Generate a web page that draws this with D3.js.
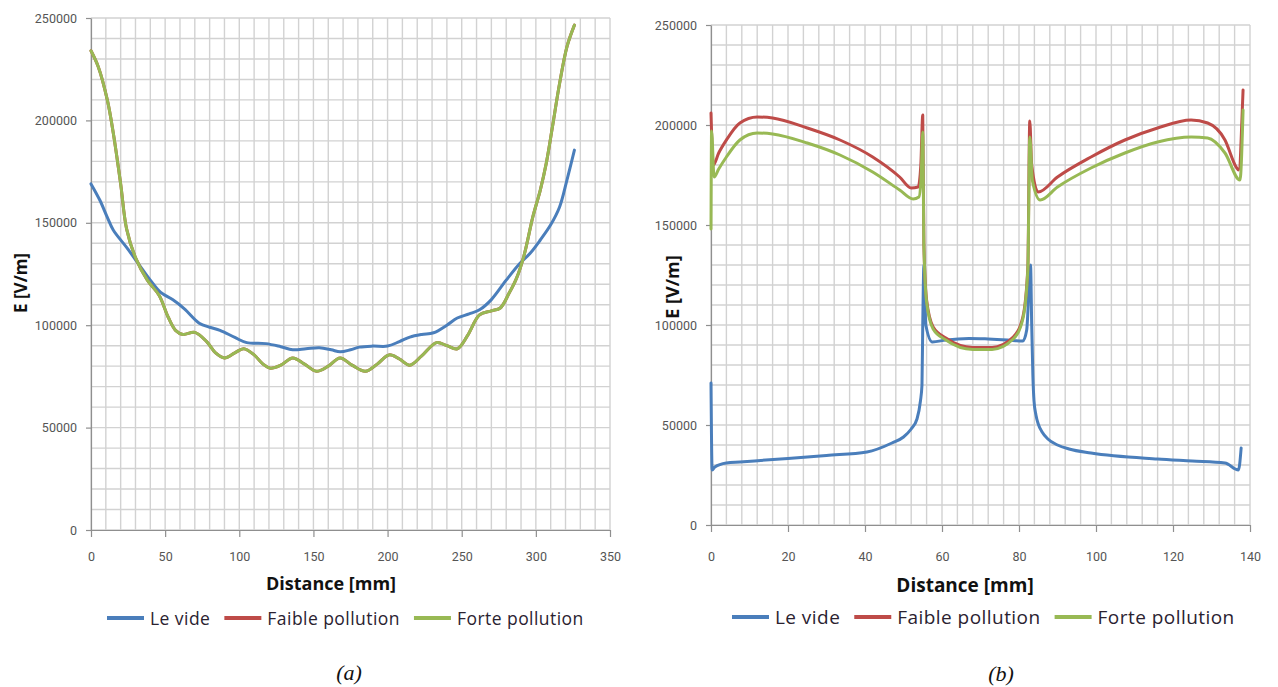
<!DOCTYPE html>
<html>
<head>
<meta charset="utf-8">
<script src="https://cdn.jsdelivr.net/npm/d3@7"></script>
<style>
  body { margin: 0; background: #fff; }
  svg { display: block; }
</style>
</head>
<body>
<svg id="chart"></svg>
<script>
// ---- data ----
const seriesNames = ["Le vide", "Faible pollution", "Forte pollution"];
const yTicks = [0, 50000, 100000, 150000, 200000, 250000];
const xTicksA = [0, 50, 100, 150, 200, 250, 300, 350];
const xTicksB = [0, 20, 40, 60, 80, 100, 120, 140];

// (a) distance in mm, E in V/m
const distA_vide = [0, 6, 10.8, 15, 24, 32, 40, 47, 55, 63, 73, 80, 87, 97, 105, 118, 128, 136, 145, 154, 162, 168, 175, 181, 190, 200, 208, 215, 223, 231, 240, 247, 255, 262, 270, 280, 289, 296, 303, 310, 316, 321, 326];
const eA_vide = [169000, 161000, 153000, 146500, 138000, 130000, 122000, 116000, 112500, 108000, 101000, 99000, 97500, 94000, 91500, 91000, 89500, 88000, 88500, 89000, 88000, 87000, 88000, 89300, 89800, 89800, 92000, 94200, 95500, 96300, 100000, 103500, 105500, 107500, 112500, 122000, 130000, 135000, 141600, 149000, 157700, 171000, 185500];

const distA_forte = [0, 5, 11, 15, 20, 24, 30, 38, 46, 52, 57, 62, 70, 78, 84, 90, 97, 103, 110, 116, 121, 128, 136, 144, 152, 160, 168, 176, 185, 193, 201, 208, 215, 223, 233, 240, 247, 254, 262, 270, 276, 282, 287, 292, 298, 303, 307, 311, 316, 321, 326];
const eA_forte = [234000, 226000, 210000, 194000, 169000, 147000, 133000, 122000, 114500, 104000, 97500, 95500, 96500, 92000, 86500, 84000, 86500, 88500, 85500, 81000, 79000, 80500, 84000, 81000, 77500, 80000, 84000, 80500, 77500, 81000, 85500, 83500, 80500, 85000, 91500, 90000, 88500, 95000, 105000, 107000, 108400, 115700, 123000, 134000, 153000, 166000, 179000, 196000, 218000, 236000, 246500];

// the red curve of (a) is hidden under the green one
const distA_faible = distA_forte.slice();
const eA_faible = eA_forte.slice();

// (b)
const distB_vide = [0, 0.3, 1, 4, 7.5, 20, 30, 40.5, 47, 50, 52, 53.5, 54.4, 54.8, 55, 55.3, 55.8, 57.5, 61, 67, 72, 77, 81, 82, 83, 83.3, 83.6, 83.9, 84.4, 85, 86, 87.5, 90, 93, 98.7, 116, 125, 133.5, 137, 137.7];
const eB_vide = [71000, 27500, 29000, 31000, 31500, 33300, 34800, 36500, 41000, 44000, 48000, 53000, 62000, 70000, 100000, 130000, 100000, 91500, 92500, 93300, 93000, 92500, 92000, 97500, 130000, 100000, 75000, 62000, 55000, 50500, 46500, 43000, 40000, 38000, 36000, 33000, 32000, 31000, 27500, 38500];

const distB_faible = [0, 0.6, 2, 4, 7.5, 12, 16, 25, 33.5, 42, 49, 52, 53.8, 54.5, 55, 55.3, 56, 57.7, 61, 68, 73, 78.5, 81, 82.3, 82.8, 83.3, 85, 90, 98.7, 107.5, 116, 124.7, 129, 133.5, 136.4, 137, 138.2];
const eB_faible = [206000, 180000, 186000, 192500, 201000, 204000, 203500, 198500, 192500, 184000, 174000, 168500, 169000, 180000, 205000, 140000, 112500, 99000, 93500, 88800, 88800, 94000, 104000, 129000, 202000, 180000, 166500, 174000, 184000, 192500, 198500, 202500, 201000, 192500, 179000, 177500, 217500];

const distB_forte = [0, 0.15, 0.8, 2, 4, 7.5, 12, 16, 25, 33.5, 42, 49, 52.5, 54, 54.6, 55, 55.3, 56, 57.7, 61, 68, 73, 78.5, 81, 82.3, 82.8, 83.5, 85.5, 90, 98.7, 107.5, 116, 124.7, 129, 133.5, 137.4, 138.2];
const eB_forte = [148000, 197000, 174000, 178000, 184000, 192500, 196000, 195500, 191000, 185000, 176500, 167500, 163000, 164000, 175000, 196500, 140000, 111500, 98000, 92500, 87800, 87800, 93000, 103000, 128000, 194000, 172000, 162500, 169000, 178500, 186000, 191500, 194000, 193500, 186000, 172500, 207500];

const colors = ["#4a7ebb", "#be4b48", "#98b954"];

let svg = d3.select("#chart")
  .attr("width", 1278)
  .attr("height", 687)
  .style("background", "#fff");

const zip = (xs, ys) => xs.map((d, i) => [d, ys[i]]);

const panel = (cfg) => {
  let x = d3.scaleLinear().domain([0, cfg.xMax]).range([cfg.left, cfg.right]);
  let y = d3.scaleLinear().domain([0, 250000]).range([cfg.bottom, cfg.top]);
  let g = svg.append("g");

  // minor grid
  g.append("g").selectAll("line")
    .data(d3.range(0, cfg.xMax + cfg.xStep / 2, cfg.xStep))
    .enter().append("line")
    .attr("x1", d => x(d)).attr("x2", d => x(d))
    .attr("y1", cfg.top).attr("y2", cfg.bottom)
    .attr("stroke", "#d2d2d2").attr("stroke-width", 1.4);

  g.append("g").selectAll("line")
    .data(d3.range(0, 250001, 10000))
    .enter().append("line")
    .attr("x1", cfg.left).attr("x2", cfg.right)
    .attr("y1", d => y(d)).attr("y2", d => y(d))
    .attr("stroke", "#d2d2d2").attr("stroke-width", 1.4);

  // axes
  let yAxis = g.append("g")
    .attr("transform", `translate(${cfg.left},0)`)
    .call(d3.axisLeft(y).tickValues(yTicks).tickSize(5).tickSizeOuter(0).tickPadding(9).tickFormat(d3.format("d")));

  let xAxis = g.append("g")
    .attr("transform", `translate(0,${cfg.bottom})`)
    .call(d3.axisBottom(x).tickValues(cfg.xTicks).tickSize(7).tickSizeOuter(0).tickPadding(cfg.xPad));

  [yAxis, xAxis].forEach(a => {
    a.select(".domain").attr("stroke", "#8f8f8f").attr("stroke-width", 1.2);
    a.selectAll(".tick line").attr("stroke", "#8f8f8f").attr("stroke-width", 1.2);
    a.selectAll(".tick text")
      .attr("fill", "#555")
      .style("font-family", "Roboto, sans-serif")
      .style("font-size", "12.5px");
  });

  // curves
  let line = d3.line()
    .x(d => x(d[0]))
    .y(d => y(d[1]))
    .curve(cfg.curve);

  cfg.series.forEach((s, i) => {
    g.append("path")
      .datum(s)
      .attr("fill", "none")
      .attr("stroke", colors[i])
      .attr("stroke-width", 3)
      .attr("stroke-linejoin", "round")
      .attr("stroke-linecap", "round")
      .attr("d", line);
  });

  // axis titles
  g.append("text")
    .attr("x", cfg.xTitle[0]).attr("y", cfg.xTitle[1])
    .attr("text-anchor", "middle")
    .attr("dominant-baseline", "central")
    .style("font-family", "'Open Sans', sans-serif")
    .style("font-weight", "bold")
    .style("font-size", cfg.titleSize + "px")
    .attr("fill", "#111")
    .text("Distance [mm]");

  g.append("text")
    .attr("transform", `translate(${cfg.yTitle[0]},${cfg.yTitle[1]}) rotate(-90)`)
    .attr("text-anchor", "middle")
    .attr("dominant-baseline", "central")
    .style("font-family", "'Open Sans', sans-serif")
    .style("font-weight", "bold")
    .style("font-size", (cfg.titleSize - 1) + "px")
    .attr("fill", "#111")
    .text("E [V/m]");

  // legend
  let lx = cfg.legend[0];
  seriesNames.forEach((name, i) => {
    g.append("line")
      .attr("x1", lx).attr("x2", lx + 37)
      .attr("y1", cfg.legend[1]).attr("y2", cfg.legend[1])
      .attr("stroke", colors[i]).attr("stroke-width", 4);
    let t = g.append("text")
      .attr("x", lx + 43).attr("y", cfg.legend[1])
      .attr("dominant-baseline", "central")
      .style("font-family", "'Open Sans', sans-serif")
      .style("font-size", cfg.legendSize + "px")
      .style("letter-spacing", "0.45px")
      .attr("fill", "#2a2230")
      .text(name);
    lx += 43 + t.node().getComputedTextLength() + 14;
  });

  // caption
  svg.append("text")
    .attr("x", cfg.caption[0]).attr("y", cfg.caption[1])
    .attr("text-anchor", "middle")
    .attr("dominant-baseline", "central")
    .style("font-family", "'Liberation Serif', serif")
    .style("font-style", "italic")
    .style("font-size", "22px")
    .attr("fill", "#111")
    .text(cfg.label);
};

panel({
  xMax: 350, xStep: 10, xTicks: xTicksA,
  left: 91, right: 610, top: 18, bottom: 530, xPad: 15.5,
  curve: d3.curveCatmullRom.alpha(0.5),
  series: [zip(distA_vide, eA_vide), zip(distA_faible, eA_faible), zip(distA_forte, eA_forte)],
  xTitle: [331, 583], yTitle: [20, 283], titleSize: 18,
  legend: [107, 618], legendSize: 17.5,
  caption: [349, 672], label: "(a)"
});

panel({
  xMax: 140, xStep: 4, xTicks: xTicksB,
  left: 711, right: 1250, top: 25, bottom: 525, xPad: 20.5,
  curve: d3.curveMonotoneX,
  series: [zip(distB_vide, eB_vide), zip(distB_faible, eB_faible), zip(distB_forte, eB_forte)],
  xTitle: [965, 585], yTitle: [672, 287], titleSize: 19,
  legend: [732, 617], legendSize: 19,
  caption: [1001, 673], label: "(b)"
});
</script>
</body>
</html>
